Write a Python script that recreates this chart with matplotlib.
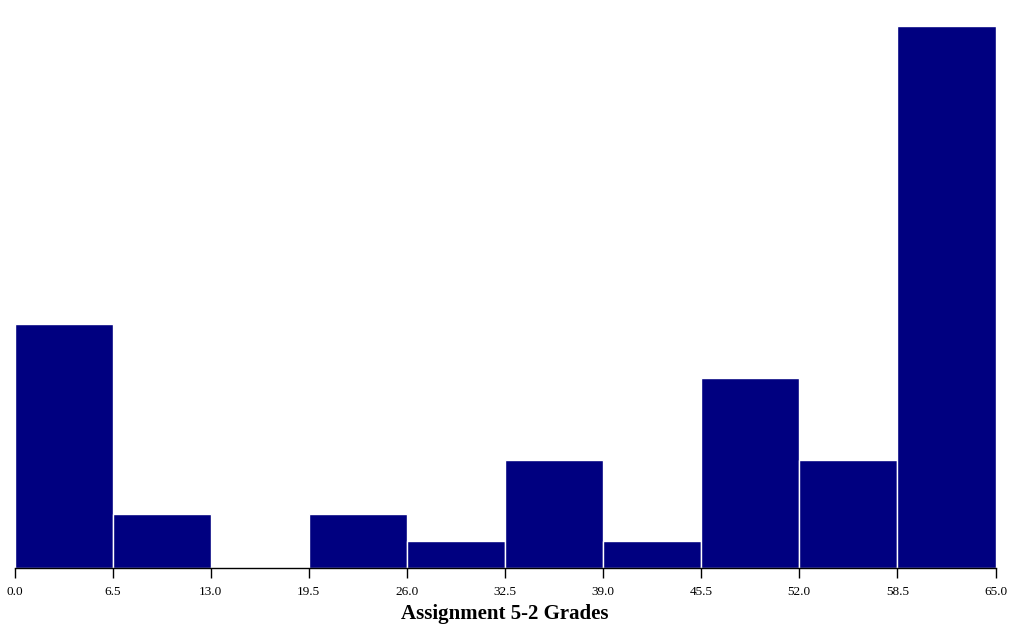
import numpy as np
import matplotlib.pyplot as plt

# histogram bin edges and counts
bin_edges = [0.0, 6.5, 13.0, 19.5, 26.0, 32.5, 39.0, 45.5, 52.0, 58.5, 65.0]
counts = [9, 2, 0, 2, 1, 4, 1, 7, 4, 20]
tick_labels = ["0.0", "6.5", "13.0", "19.5", "26.0", "32.5", "39.0", "45.5", "52.0", "58.5", "65.0"]

plt.rcParams['font.family'] = ['Liberation Serif', 'DejaVu Serif']

fig = plt.figure(figsize=(10.1, 6.41), dpi=100)
ax = fig.add_axes([14.5 / 1010, 73 / 641, 981 / 1010, 542 / 641])

lefts = np.array(bin_edges[:-1])
widths = np.diff(bin_edges)
ax.bar(lefts, counts, width=widths, align="edge", color="#000080",
       edgecolor="white", linewidth=1.0)

ax.set_xlim(bin_edges[0], bin_edges[-1])
ax.set_ylim(0, max(counts))
ax.set_xticks(bin_edges)
ax.set_xticklabels(tick_labels, fontsize=9.5)
ax.tick_params(axis="x", length=7, width=1, color="black", pad=6)
ax.set_yticks([])
for side in ["left", "right", "top"]:
    ax.spines[side].set_visible(False)
ax.spines["bottom"].set_linewidth(1)
ax.set_xlabel("Assignment 5-2 Grades", fontsize=15, fontweight="bold", labelpad=4)

fig.savefig("out.png", dpi=100)
